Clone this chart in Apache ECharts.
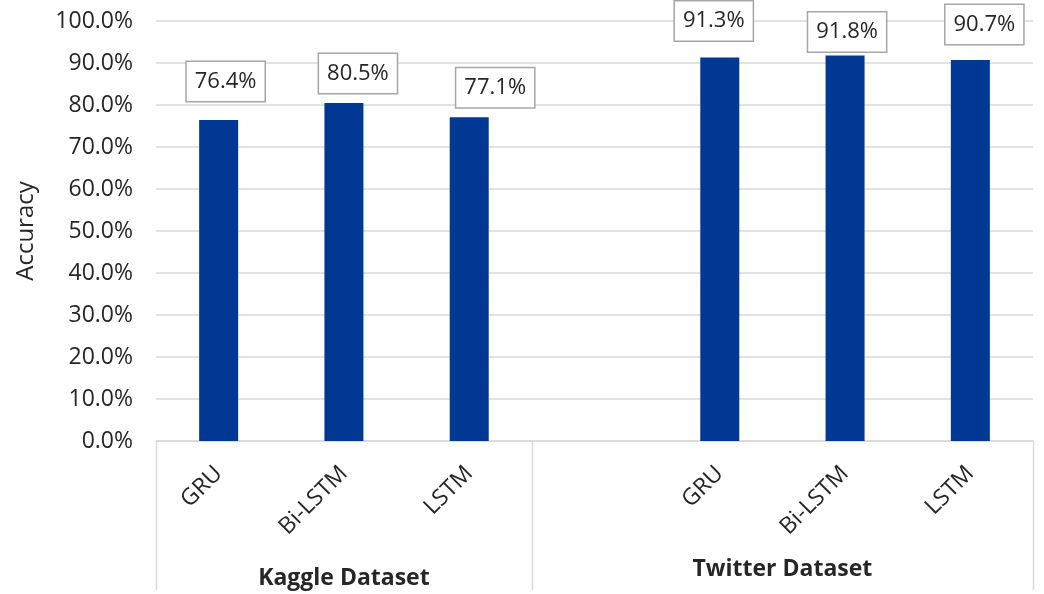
<!DOCTYPE html>
<html>
<head>
<meta charset="utf-8">
<script src="https://cdn.jsdelivr.net/npm/echarts@6/dist/echarts.min.js"></script>
<style>
  html, body { margin: 0; padding: 0; background: #fff; }
  #chart { width: 1044px; height: 594px; }
</style>
</head>
<body>
<div id="chart"></div>
<script>
// Model names per slot; the blank slot separates the two dataset groups
const models = ['GRU', 'Bi-LSTM', 'LSTM', '', 'GRU', 'Bi-LSTM', 'LSTM'];
// Accuracy in percent (null = spacer slot)
const accuracy = [76.4, 80.5, 77.1, null, 91.3, 91.8, 90.7];
// Dataset groups: name and the slot range [first, last] they cover
const groupNames = ['Kaggle Dataset', 'Twitter Dataset'];
const groupRanges = [[0, 2], [3, 6]];
// Y axis ticks
const yMin = 0, yMax = 100, yStep = 10;

// Per-label nudges: [horizontal shift, gap above bar]
const labelNudge = [[7, 19], [14, 10], [26, 10], [0, 0], [-6, 17], [2, 4], [14, 16]];
// Vertical position of each group caption
const groupLabelY = [578, 569];

const FONT = '"Open Sans", "Noto Sans", sans-serif';
const TEXT = '#262626';
const LINE = '#d9d9d9';
const BAR = '#003893';

const chart = echarts.init(document.getElementById('chart'), null, { renderer: 'canvas' });

const barData = accuracy.map((v, i) => ({
  value: v,
  label: {
    distance: labelNudge[i][1],
    offset: [labelNudge[i][0], 0]
  }
}));

const option = {
  animation: false,
  backgroundColor: '#ffffff',
  textStyle: { fontFamily: FONT },
  grid: { left: 156, right: 11, top: 21, bottom: 153, containLabel: false },
  xAxis: {
    type: 'category',
    data: models,
    axisLine: { show: true, lineStyle: { color: LINE, width: 1.5 } },
    axisTick: { show: false },
    axisLabel: {
      interval: 0,
      rotate: 45,
      margin: 29,
      color: TEXT,
      fontSize: 23,
      fontFamily: FONT
    },
    splitLine: { show: false }
  },
  yAxis: {
    type: 'value',
    min: yMin,
    max: yMax,
    interval: yStep,
    name: 'Accuracy',
    nameLocation: 'middle',
    nameGap: 118,
    nameTextStyle: { color: TEXT, fontSize: 24, fontFamily: FONT },
    axisLine: { show: false },
    axisTick: { show: false },
    axisLabel: {
      color: TEXT,
      fontSize: 23,
      fontFamily: FONT,
      margin: 23,
      formatter: v => v.toFixed(1) + '%'
    },
    splitLine: { show: true, lineStyle: { color: LINE, width: 1.5 } }
  },
  series: [{
    type: 'bar',
    data: barData,
    barWidth: 39,
    itemStyle: { color: BAR },
    label: {
      show: true,
      position: 'top',
      formatter: p => p.value == null ? '' : p.value.toFixed(1) + '%',
      color: TEXT,
      fontSize: 22,
      fontFamily: FONT,
      lineHeight: 27,
      backgroundColor: '#ffffff',
      borderColor: '#a6a6a6',
      borderWidth: 1.5,
      padding: [6, 8]
    }
  }]
};

chart.setOption(option);

// Group dividers and captions under the category labels, placed from the axis scale
const axisY = chart.convertToPixel({ yAxisIndex: 0 }, yMin);
const x0 = chart.convertToPixel({ xAxisIndex: 0 }, 0);
const x1 = chart.convertToPixel({ xAxisIndex: 0 }, 1);
const band = x1 - x0;
const edge = i => x0 + (i - 0.5) * band;
const bottomY = 590;

const graphics = [];
const boundaries = [groupRanges[0][0]].concat(groupRanges.map(r => r[1] + 1));
boundaries.forEach(b => {
  const x = Math.round(edge(b)) + 0.5;
  graphics.push({
    type: 'line',
    shape: { x1: x, y1: axisY, x2: x, y2: bottomY },
    style: { stroke: LINE, lineWidth: 1.5 },
    silent: true
  });
});
groupNames.forEach((name, g) => {
  const cx = (edge(groupRanges[g][0]) + edge(groupRanges[g][1] + 1)) / 2;
  graphics.push({
    type: 'text',
    x: cx,
    y: groupLabelY[g],
    style: {
      text: name,
      fill: TEXT,
      font: 'bold 23px ' + FONT,
      align: 'center',
      verticalAlign: 'middle'
    },
    silent: true
  });
});

chart.setOption({ graphic: graphics });
</script>
</body>
</html>
